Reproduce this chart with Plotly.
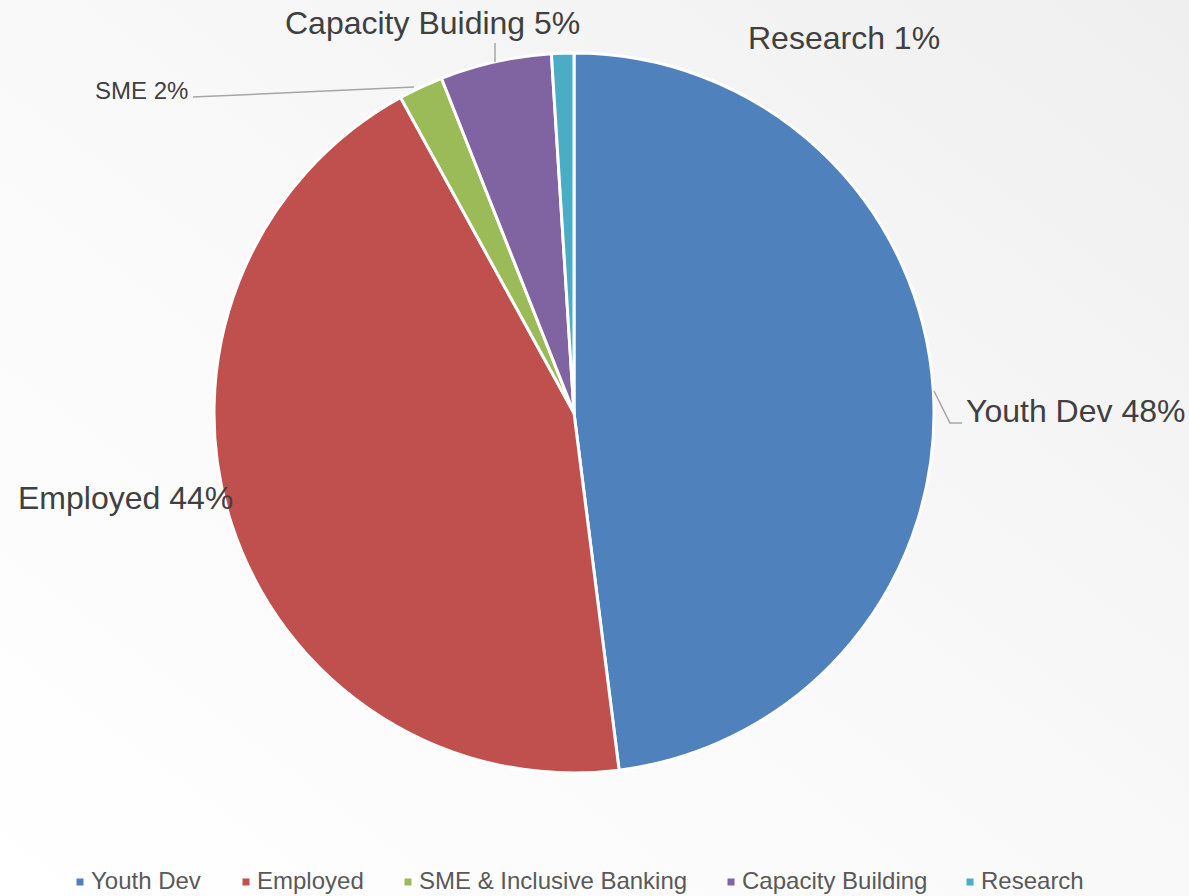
import plotly.graph_objects as go

# Share of programme activity by area
categories = ["Youth Dev", "Employed", "SME & Inclusive Banking", "Capacity Building", "Research"]
slice_labels = ["Youth Dev", "Employed", "SME", "Capacity Buiding", "Research"]
values = [48, 44, 2, 5, 1]
colors = ["#4F81BD", "#C0504D", "#9BBB59", "#8064A2", "#4BACC6"]

W, H = 1189, 896


def px(x):
    return x / W


def py(y):
    return 1 - y / H


fig = go.Figure()

fig.add_trace(go.Pie(
    labels=categories,
    values=values,
    sort=False,
    direction="clockwise",
    rotation=0,
    textinfo="none",
    hoverinfo="label+percent",
    marker=dict(colors=colors, line=dict(color="white", width=3)),
    domain=dict(x=[px(214), px(934)], y=[py(773), py(53)]),
    showlegend=False,
))

# outside slice labels: (left x, vertical centre y, font size)
label_pos = [
    (964, 411, 32),
    (16, 498, 32),
    (93, 90, 24),
    (283, 23, 32),
    (746, 38, 32),
]
annotations = []
for name, v, (x, y, fs) in zip(slice_labels, values, label_pos):
    annotations.append(dict(
        x=px(x), y=py(y), xref="paper", yref="paper",
        xanchor="left", yanchor="middle", showarrow=False,
        text=f"{name} {v}%",
        font=dict(family="Liberation Sans, Arial", size=fs, color="#404040"),
    ))

# leader lines
line_style = dict(color="#A6A6A6", width=1.5)
shapes = [
    dict(type="path", xref="paper", yref="paper",
         path=f"M{px(934)},{py(391)} L{px(950)},{py(423)} L{px(962)},{py(423)}",
         line=line_style),
    dict(type="line", xref="paper", yref="paper",
         x0=px(193), y0=py(97), x1=px(414), y1=py(87), line=line_style),
    dict(type="line", xref="paper", yref="paper",
         x0=px(495), y0=py(43), x1=px(495), y1=py(62), line=line_style),
]

# legend along the bottom: small square swatch + text
legend_x = [80, 246, 408, 731, 970]
legend_y = 882
for cat, col, lx in zip(categories, colors, legend_x):
    shapes.append(dict(
        type="rect", xref="paper", yref="paper",
        x0=px(lx - 3.5), x1=px(lx + 3.5), y0=py(legend_y - 3.5), y1=py(legend_y + 3.5),
        fillcolor=col, line=dict(width=0),
    ))
    annotations.append(dict(
        x=px(lx + 9), y=py(legend_y - 2), xref="paper", yref="paper",
        xanchor="left", yanchor="middle", showarrow=False,
        text=cat,
        font=dict(family="Liberation Sans, Arial", size=24, color="#595959"),
    ))

bg_svg = (
    "data:image/svg+xml;utf8,"
    "<svg xmlns='http://www.w3.org/2000/svg' width='1189' height='896'>"
    "<defs><linearGradient id='g' x1='0' y1='1' x2='1' y2='0'>"
    "<stop offset='0' stop-color='%23ffffff'/>"
    "<stop offset='0.5' stop-color='%23f9f9f9'/>"
    "<stop offset='1' stop-color='%23efefef'/>"
    "</linearGradient></defs>"
    "<rect width='1189' height='896' fill='url(%23g)'/></svg>"
)

fig.update_layout(
    width=W, height=H,
    margin=dict(l=0, r=0, t=0, b=0),
    paper_bgcolor="#ffffff",
    plot_bgcolor="rgba(0,0,0,0)",
    annotations=annotations,
    shapes=shapes,
    images=[dict(source=bg_svg, xref="paper", yref="paper", x=0, y=1,
                 sizex=1, sizey=1, xanchor="left", yanchor="top",
                 sizing="stretch", layer="below")],
    font=dict(family="Liberation Sans, Arial"),
)

fig.write_html("out.html")
